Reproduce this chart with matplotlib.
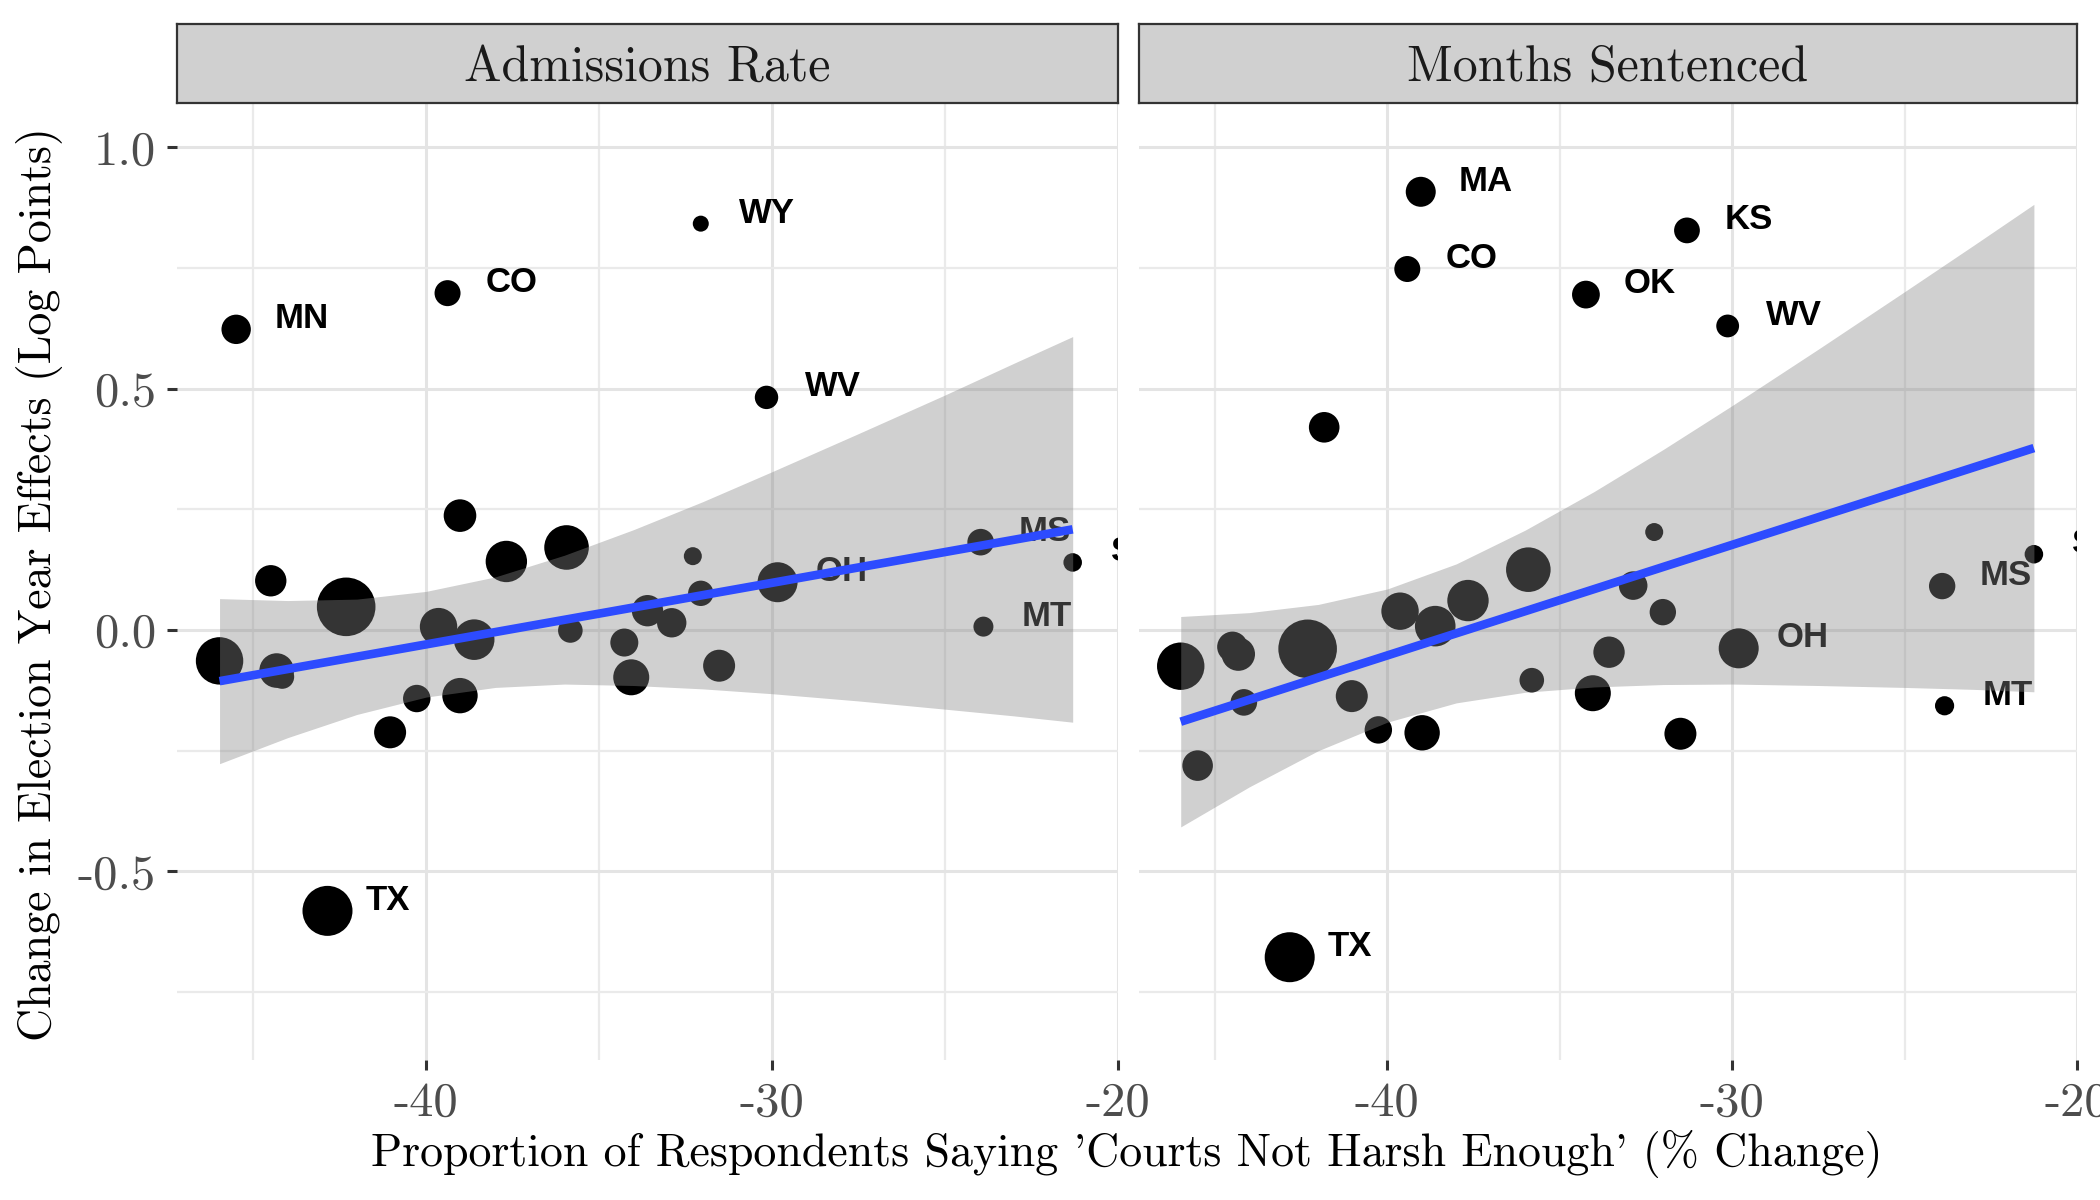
import matplotlib
matplotlib.use("Agg")
import matplotlib.pyplot as plt
import numpy as np

plt.rcParams['axes.unicode_minus'] = False

# ---- Admissions Rate panel ----
adm_state = ['MN', 'CO', 'WY', 'WV', 'TX', 'OH', 'MS', 'MT', 'SD',
             '', '', '', '', '', '', '', '', '', '', '',
             '', '', '', '', '', '', '', '', '', '']
adm_x = [-45.49, -39.38, -32.06, -30.16, -42.85, -29.84, -23.97, -23.89, -21.31,
         -45.97, -44.49, -44.32, -44.16, -42.31, -41.04, -40.27, -39.02, -39.64, -39.02, -38.61,
         -37.68, -35.94, -35.83, -34.27, -34.07, -33.60, -32.90, -32.29, -32.06, -31.53]
adm_y = [0.623, 0.698, 0.842, 0.482, -0.582, 0.099, 0.182, 0.007, 0.140,
         -0.064, 0.102, -0.084, -0.097, 0.048, -0.212, -0.142, 0.237, 0.007, -0.136, -0.020,
         0.142, 0.171, -0.001, -0.026, -0.098, 0.040, 0.015, 0.153, 0.076, -0.074]
adm_w = [2.16, 1.69, 0.64, 1.37, 6.25, 4.00, 1.77, 1.00, 0.86,
         5.62, 2.46, 2.99, 1.44, 8.58, 2.56, 1.88, 2.66, 3.50, 3.13, 4.12,
         4.28, 4.97, 1.51, 1.96, 3.24, 2.46, 2.16, 0.81, 1.61, 2.56]
# fitted line and 95% band
adm_fit_x = [-45.97, -21.31]
adm_fit_y = [-0.106, 0.2086]
adm_band_x = [-45.97, -44, -42, -40, -38, -36, -34, -32, -30, -27.5, -25, -23, -21.31]
adm_band_hi = [0.065, 0.061, 0.064, 0.080, 0.110, 0.155, 0.208, 0.266, 0.328, 0.407, 0.487, 0.553, 0.608]
adm_band_lo = [-0.277, -0.223, -0.175, -0.139, -0.119, -0.112, -0.115, -0.122, -0.132, -0.147, -0.164, -0.178, -0.191]

# ---- Months Sentenced panel ----
sen_state = ['MA', 'CO', 'KS', 'OK', 'WV', 'TX', 'OH', 'MS', 'MT', 'SD',
             '', '', '', '', '', '', '', '', '', '', '',
             '', '', '', '', '', '', '', '', '', '']
sen_x = [-39.03, -39.42, -31.31, -34.24, -30.13, -42.83, -29.81, -23.91, -23.84, -21.25,
         -41.83, -45.99, -44.49, -44.32, -44.16, -45.50, -42.31, -41.03, -40.26, -38.99, -39.63,
         -38.61, -37.66, -35.91, -35.81, -33.57, -34.04, -32.87, -32.26, -32.01, -31.50]
sen_y = [0.908, 0.748, 0.828, 0.695, 0.630, -0.678, -0.038, 0.091, -0.157, 0.157,
         0.420, -0.075, -0.035, -0.050, -0.150, -0.281, -0.039, -0.137, -0.207, -0.213, 0.039,
         0.008, 0.061, 0.125, -0.104, -0.046, -0.131, 0.092, 0.203, 0.037, -0.215]
sen_w = [2.25, 1.69, 1.66, 1.93, 1.30, 6.25, 4.00, 1.74, 0.92, 0.86,
         2.34, 5.62, 2.34, 2.79, 1.77, 2.34, 8.58, 2.56, 1.88, 3.13, 3.50,
         4.12, 4.28, 4.97, 1.51, 2.46, 3.24, 2.04, 0.81, 1.74, 2.56]
sen_fit_x = [-45.99, -21.25]
sen_fit_y = [-0.190, 0.377]
sen_band_x = [-45.99, -44, -42, -40, -38, -36, -34, -32, -30, -27.5, -25, -23, -21.25]
sen_band_hi = [0.028, 0.036, 0.053, 0.085, 0.137, 0.207, 0.287, 0.374, 0.465, 0.582, 0.701, 0.797, 0.882]
sen_band_lo = [-0.408, -0.325, -0.250, -0.191, -0.151, -0.129, -0.118, -0.113, -0.112, -0.115, -0.119, -0.123, -0.128]

facet_titles = ['Admissions Rate', 'Months Sentenced']
x_ticks = [-40, -30, -20]
x_ticklabels = ['-40', '-30', '-20']
y_ticks = [1.0, 0.5, 0.0, -0.5]
y_ticklabels = ['1.0', '0.5', '0.0', '-0.5']

serif = ['cmr10', 'DejaVu Serif']
W, H = 2100, 1200
fig = plt.figure(figsize=(10.5, 6), dpi=200)

panels = [
    (adm_state, adm_x, adm_y, adm_w, adm_fit_x, adm_fit_y, adm_band_x, adm_band_hi, adm_band_lo),
    (sen_state, sen_x, sen_y, sen_w, sen_fit_x, sen_fit_y, sen_band_x, sen_band_hi, sen_band_lo),
]
lefts = [177, 1139]
widths = [941, 938]
top, bottom = 103, 1060
strip_top = 24

for i, (st, xs, ys, ws, fx, fy, bx, bhi, blo) in enumerate(panels):
    ax = fig.add_axes([lefts[i] / W, 1 - bottom / H, widths[i] / W, (bottom - top) / H])
    ax.set_xlim(-47.2, -20.0)
    ax.set_ylim(-0.891, 1.092)
    for s in ax.spines.values():
        s.set_visible(False)
    ax.set_axisbelow(True)
    ax.set_xticks(x_ticks)
    ax.set_xticklabels(x_ticklabels, family=serif)
    ax.set_xticks([-45, -35, -25], minor=True)
    ax.set_yticks(y_ticks)
    ax.set_yticklabels(y_ticklabels, family=serif)
    ax.set_yticks([0.75, 0.25, -0.25, -0.75], minor=True)
    ax.grid(which='major', color='#e4e4e4', lw=1.1)
    ax.grid(which='minor', color='#eaeaea', lw=0.8)
    ax.tick_params(which='major', length=3.6, width=1.1, color='#333333',
                   labelcolor='#4d4d4d', labelsize=17.5, pad=4)
    ax.tick_params(which='minor', length=0)
    if i == 1:
        ax.tick_params(axis='y', left=False, labelleft=False)

    sizes = np.array(ws) * 51.84
    ax.scatter(xs, ys, s=sizes, color='black', linewidths=0, zorder=2)
    for lab, x, y in zip(st, xs, ys):
        if lab:
            ax.text(x + 1.1, y + 0.022, lab, ha='left', va='center', fontsize=12.5,
                    fontweight='bold', family=['Liberation Sans', 'DejaVu Sans'],
                    color='black', zorder=3, clip_on=True)
    ax.fill_between(bx, blo, bhi, color='#878787', alpha=0.392, linewidth=0, zorder=4)
    ax.plot(fx, fy, color='#2d4bff', lw=3.1, zorder=5, solid_capstyle='butt')

    sax = fig.add_axes([lefts[i] / W, 1 - top / H, widths[i] / W, (top - strip_top) / H])
    sax.set_xticks([])
    sax.set_yticks([])
    sax.set_facecolor('#d0d0d0')
    for s in sax.spines.values():
        s.set_color('#333333')
        s.set_linewidth(0.8)
    sax.text(0.5, 0.44, facet_titles[i], ha='center', va='center', fontsize=18,
             family=serif, color='#1a1a1a', transform=sax.transAxes)

fig.text(1127 / W, 1 - 1154 / H, "Proportion of Respondents Saying 'Courts Not Harsh Enough' (% Change)",
         ha='center', va='center', fontsize=16.5, family=serif, color='black')
fig.text(40 / W, 1 - 584 / H, "Change in Election Year Effects (Log Points)",
         ha='center', va='center', rotation=90, fontsize=16.5, family=serif, color='black')

fig.savefig('out.png', dpi=200)
